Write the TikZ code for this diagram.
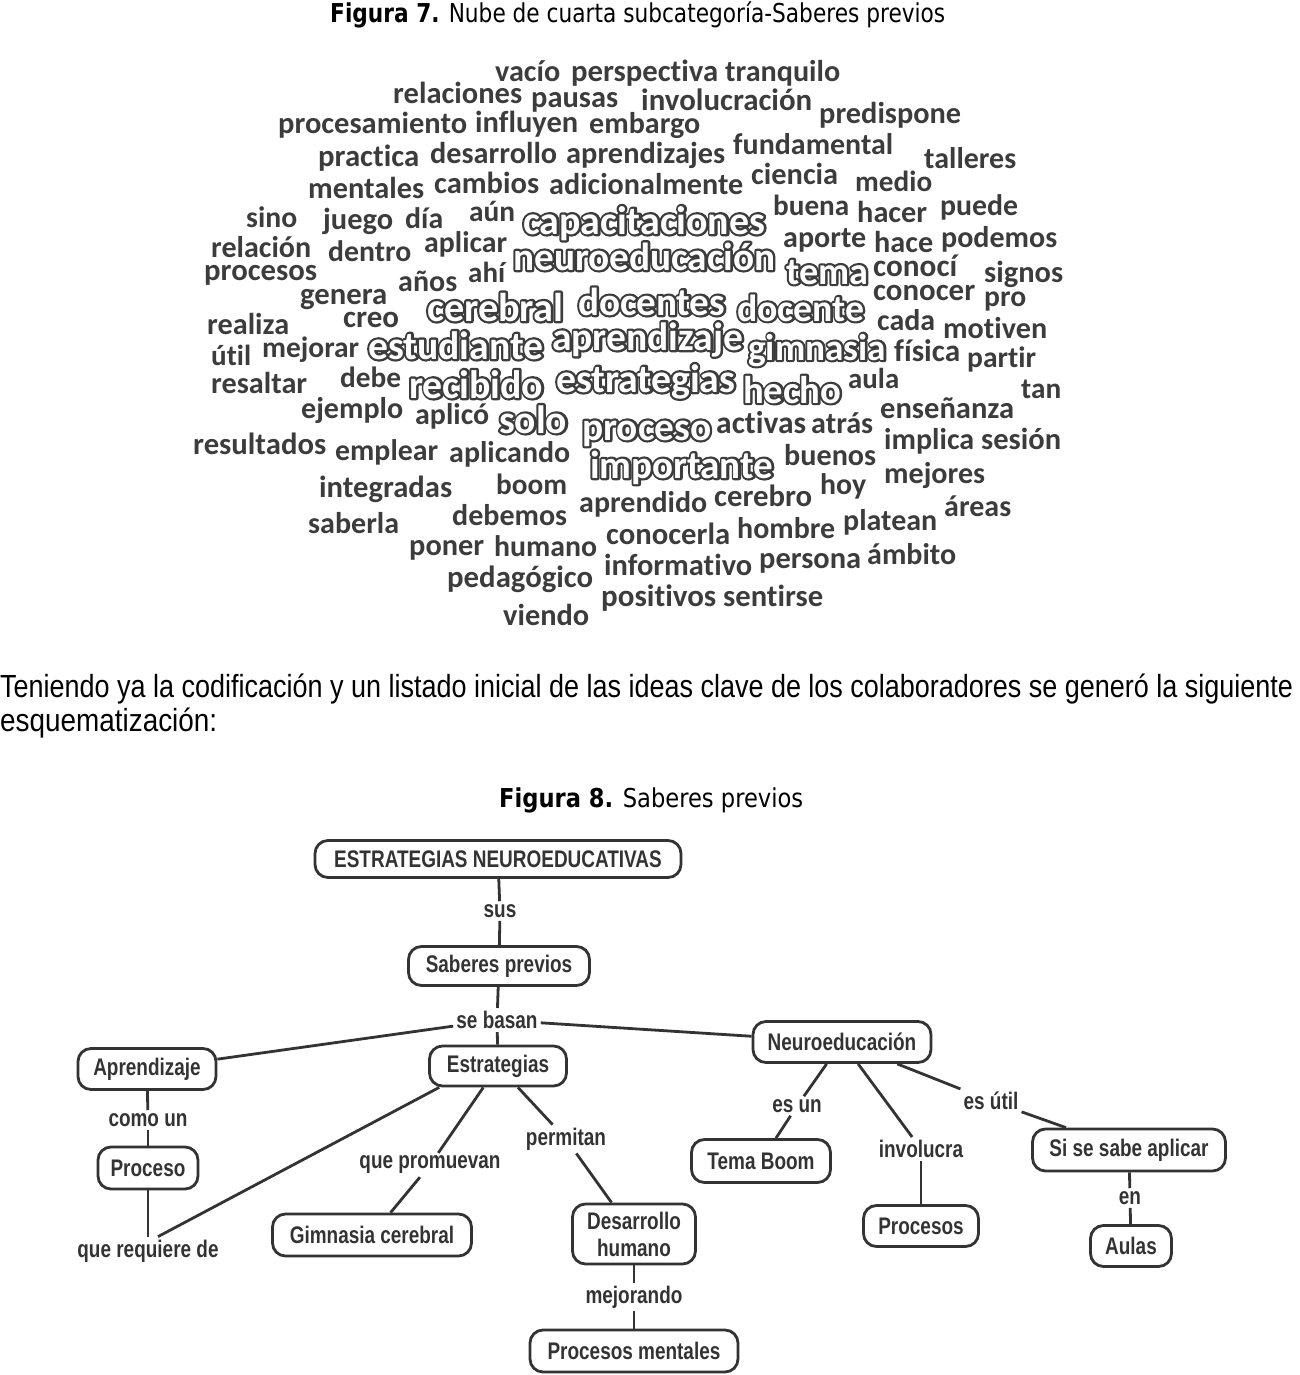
\documentclass[tikz,border=0pt]{standalone}
\usepackage{fontspec}
\usepackage{graphicx}
\newfontfamily\wcfont[Ligatures=NoCommon]{Carlito}
\newfontfamily\capfont{DejaVu Sans}
\newfontfamily\parfont{Liberation Sans}
\newfontfamily\cmfont[FakeStretch=0.79]{Liberation Sans}
\definecolor{ink}{HTML}{333333}
\definecolor{wcg}{HTML}{3C3C3C}
\newcount\wcn
\newcommand\wc[4]{\global\advance\wcn by 1
  \node[wordc] (w\the\wcn) at (#1,#2) {\resizebox{#3pt}{!}{\fontsize{20}{24}\selectfont\wcfont\bfseries #4}};}
\newcommand\wo[4]{\global\advance\wcn by 1
  \node[wordc] (w\the\wcn) at (#1,#2) {\resizebox{#3pt}{!}{\fontsize{20}{24}\selectfont\wcfont\bfseries\rlap{\textcolor{wcg}{\special{pdf:literal direct 1 Tr 2.3 w 1 j}#4\special{pdf:literal direct 0 Tr}}}\textcolor{white}{#4}}};}
\tikzset{
  wordc/.style={anchor=base west, inner sep=0pt, text=wcg},
  plain/.style={anchor=base west, inner sep=0pt, text=ink},
  concept/.style={draw=ink, line width=2.8pt, rounded corners=13pt, fill=white, text=ink,
    font=\cmfont\bfseries\fontsize{24}{27}\selectfont, inner sep=2pt, align=center},
  lab/.style={text=ink, font=\cmfont\bfseries\fontsize{24}{27}\selectfont, inner sep=3pt},
  conn/.style={draw=ink, line width=2.8pt}
}
\begin{document}
\begin{tikzpicture}[x=1pt,y=-1pt]
\path[use as bounding box] (0,0) rectangle (1300,1375);
% caption 7
\node[plain,text=black] (cap7) at (330,23) {\resizebox{615pt}{\height}{\fontsize{26}{30}\selectfont\capfont{\bfseries Figura 7.} Nube de cuarta subcategoría-Saberes previos}};
% word cloud
\wc{495}{82}{65}{vacío}
\wc{571}{82}{147}{perspectiva}
\wc{725}{82}{115}{tranquilo}
\wc{393}{104}{129}{relaciones}
\wc{531}{108}{87}{pausas}
\wc{641}{111}{171}{involucración}
\wc{819}{124}{142}{predispone}
\wc{278}{134}{189}{procesamiento}
\wc{475}{133}{103}{influyen}
\wc{589}{134}{111}{embargo}
\wc{733}{155}{160}{fundamental}
\wc{924}{169}{92}{talleres}
\wc{318}{167}{101}{practica}
\wc{430}{164}{127}{desarrollo}
\wc{566}{164}{159}{aprendizajes}
\wc{751}{185}{87}{ciencia}
\wc{855}{192}{77}{medio}
\wc{308}{198}{116}{mentales}
\wc{434}{194}{105}{cambios}
\wc{549}{195}{194}{adicionalmente}
\wc{773}{215}{76}{buena}
\wc{857}{222}{70}{hacer}
\wc{940}{215}{78}{puede}
\wc{246}{227}{51}{sino}
\wc{323}{229}{70}{juego}
\wc{405}{229}{38}{día}
\wc{469}{222}{46}{aún}
\wo{523}{234}{242}{capacitaciones}
\wc{783}{247}{83}{aporte}
\wc{874}{252}{59}{hace}
\wc{941}{247}{116}{podemos}
\wc{211}{257}{100}{relación}
\wc{328}{261}{83}{dentro}
\wc{424}{252}{83}{aplicar}
\wo{513}{270}{262}{neuroeducación}
\wo{786}{284}{82}{tema}
\wc{873}{276}{84}{conocí}
\wc{984}{282}{79}{signos}
\wc{204}{280}{113}{procesos}
\wc{398}{291}{59}{años}
\wc{468}{282}{37}{ahí}
\wc{300}{304}{87}{genera}
\wo{427}{321}{136}{cerebral}
\wo{578}{315}{147}{docentes}
\wo{737}{321}{127}{docente}
\wc{873}{300}{102}{conocer}
\wc{984}{306}{42}{pro}
\wc{207}{334}{82}{realiza}
\wc{343}{327}{56}{creo}
\wc{877}{330}{58}{cada}
\wc{943}{338}{104}{motiven}
\wc{211}{365}{40}{útil}
\wc{262}{357}{97}{mejorar}
\wo{368}{359}{175}{estudiante}
\wo{552}{350}{191}{aprendizaje}
\wo{748}{360}{138}{gimnasia}
\wc{894}{361}{66}{física}
\wc{967}{367}{69}{partir}
\wc{211}{393}{96}{resaltar}
\wc{340}{387}{61}{debe}
\wo{409}{398}{134}{recibido}
\wo{556}{392}{179}{estrategias}
\wo{743}{403}{98}{hecho}
\wc{848}{388}{51}{aula}
\wc{1021}{398}{40}{tan}
\wc{301}{418}{102}{ejemplo}
\wc{415}{424}{74}{aplicó}
\wo{499}{433}{68}{solo}
\wc{880}{418}{134}{enseñanza}
\wo{582}{440}{129}{proceso}
\wc{716}{433}{90}{activas}
\wc{811}{433}{62}{atrás}
\wc{884}{449}{90}{implica}
\wc{981}{449}{80}{sesión}
\wc{193}{454}{133}{resultados}
\wc{335}{460}{103}{emplear}
\wc{449}{462}{121}{aplicando}
\wo{590}{478}{183}{importante}
\wc{784}{465}{92}{buenos}
\wc{884}{483}{101}{mejores}
\wc{319}{497}{133}{integradas}
\wc{496}{494}{71}{boom}
\wc{579}{512}{128}{aprendido}
\wc{714}{506}{98}{cerebro}
\wc{820}{494}{46}{hoy}
\wc{944}{516}{67}{áreas}
\wc{308}{533}{91}{saberla}
\wc{452}{525}{115}{debemos}
\wc{606}{544}{124}{conocerla}
\wc{737}{538}{98}{hombre}
\wc{843}{530}{94}{platean}
\wc{409}{555}{75}{poner}
\wc{494}{556}{103}{humano}
\wc{604}{575}{148}{informativo}
\wc{759}{568}{102}{persona}
\wc{867}{564}{89}{ámbito}
\wc{447}{587}{146}{pedagógico}
\wc{601}{606}{115}{positivos}
\wc{723}{606}{100}{sentirse}
\wc{503}{625}{86}{viendo}
% paragraph
\node[plain,text=black] (par1) at (0,697) {\resizebox{1293pt}{\height}{\fontsize{32}{36}\selectfont\parfont Teniendo ya la codificación y un listado inicial de las ideas clave de los colaboradores se generó la siguiente}};
\node[plain,text=black] (par2) at (0,731) {\resizebox{217pt}{\height}{\fontsize{32}{36}\selectfont\parfont esquematización:}};
% caption 8
\node[plain,text=black] (cap8) at (499,807) {\resizebox{304pt}{\height}{\fontsize{26}{30}\selectfont\capfont{\bfseries Figura 8.} Saberes previos}};
% concept map
\node[concept, minimum width=366pt, minimum height=37pt] (en) at (498,859) {ESTRATEGIAS NEUROEDUCATIVAS};
\node[concept, minimum width=181pt, minimum height=39pt] (sp) at (499,966) {Saberes previos};
\node[concept, minimum width=138pt, minimum height=41pt] (apr) at (147,1069) {Aprendizaje};
\node[concept, minimum width=100pt, minimum height=42pt] (proc) at (148,1168) {Proceso};
\node[concept, minimum width=137pt, minimum height=40pt] (estr) at (498,1066) {Estrategias};
\node[concept, minimum width=199pt, minimum height=42pt] (gim) at (372,1235) {Gimnasia cerebral};
\node[concept, minimum width=123pt, minimum height=60pt] (dh) at (634,1234) {Desarrollo\\humano};
\node[concept, minimum width=208pt, minimum height=42pt] (pm) at (634,1351) {Procesos mentales};
\node[concept, minimum width=178pt, minimum height=41pt] (neu) at (842,1042) {Neuroeducación};
\node[concept, minimum width=139pt, minimum height=43pt] (tb) at (761,1161) {Tema Boom};
\node[concept, minimum width=115pt, minimum height=41pt] (pr) at (921,1226) {Procesos};
\node[concept, minimum width=193pt, minimum height=42pt] (ss) at (1129,1150) {Si se sabe aplicar};
\node[concept, minimum width=81pt, minimum height=41pt] (au) at (1131,1246) {Aulas};
% labels
\node[lab] (l1) at (500,911) {sus};
\node[lab] (l2) at (497,1020) {se basan};
\node[lab] (l3) at (148,1120) {como un};
\node[lab] (l4) at (148,1251) {que requiere de};
\node[lab] (l5) at (430,1165) {que promuevan};
\node[lab] (l6) at (566,1139) {permitan};
\node[lab] (l7) at (634,1297) {mejorando};
\node[lab] (l8) at (797,1106) {es un};
\node[lab] (l9) at (921,1149) {involucra};
\node[lab] (l10) at (991,1101) {es útil};
\node[lab] (l11) at (1130,1198) {en};
% connectors
\draw[conn] (en) -- (l1);
\draw[conn] (l1) -- (sp);
\draw[conn] (sp) -- (l2);
\draw[conn] (l2) -- (estr);
\draw[conn] (l2) -- (apr);
\draw[conn] (l2) -- (neu);
\draw[conn] (apr) -- (l3);
\draw[conn] (l3) -- (proc);
\draw[conn] (proc) -- (l4);
\draw[conn] (estr.200) -- ([xshift=10pt]l4.north);
\draw[conn] (estr) -- (l5);
\draw[conn] (l5) -- (gim);
\draw[conn] (estr) -- (l6);
\draw[conn] (l6) -- (dh);
\draw[conn] (dh) -- (l7);
\draw[conn] (l7) -- (pm);
\draw[conn] (neu) -- (l8);
\draw[conn] (l8) -- (tb);
\draw[conn] (neu) -- (l9);
\draw[conn] (l9) -- (pr);
\draw[conn] (neu) -- (l10);
\draw[conn] (l10) -- (ss);
\draw[conn] (ss) -- (l11);
\draw[conn] (l11) -- (au);
\end{tikzpicture}
\end{document}
